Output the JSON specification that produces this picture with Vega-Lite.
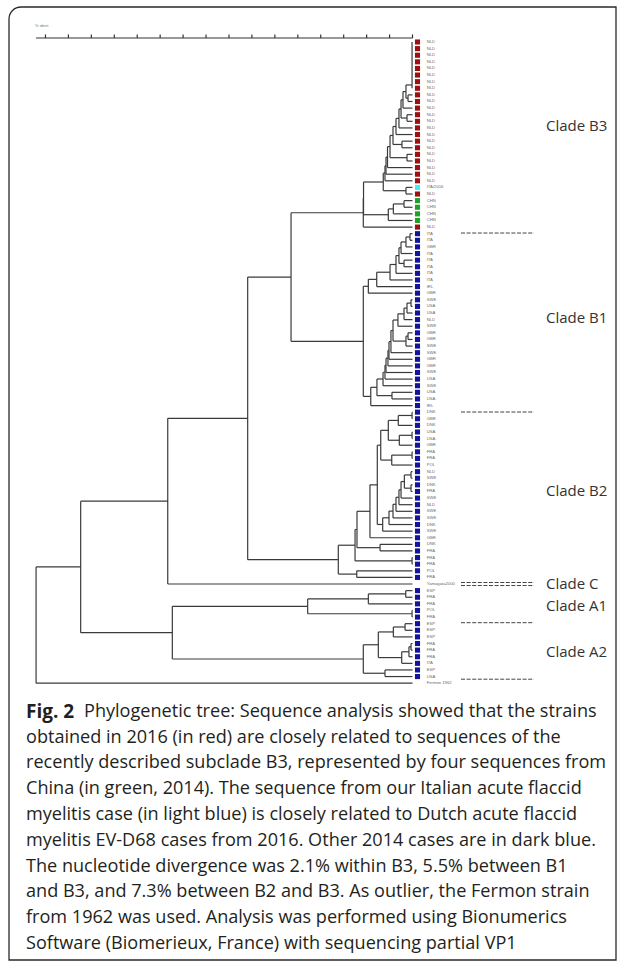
{
  "$schema": "https://vega.github.io/schema/vega-lite/v6.json",
  "width": 625,
  "height": 968,
  "padding": 0,
  "autosize": "none",
  "background": "white",
  "config": {"view": {"stroke": null}, "axis": {"disable": true}, "legend": {"disable": true}},
  "datasets": {
    "nodes": [
      {"nx":99.96,"ya":0,"xa":99.96,"yb":7,"xb":99.96},
      {"nx":99.61,"ya":8,"xa":100,"yb":9,"xb":100},
      {"nx":99.43,"ya":6.5,"xa":99.96,"yb":8.5,"xb":99.61},
      {"nx":99.17,"ya":7.5,"xa":99.43,"yb":10,"xb":100},
      {"nx":99.52,"ya":11,"xa":100,"yb":12,"xb":100},
      {"nx":99.0,"ya":8.75,"xa":99.17,"yb":11.5,"xb":99.52},
      {"nx":98.82,"ya":10.13,"xa":99.0,"yb":13,"xb":100},
      {"nx":98.56,"ya":11.56,"xa":98.82,"yb":14,"xb":100},
      {"nx":99.08,"ya":15,"xa":100,"yb":16,"xb":100},
      {"nx":98.3,"ya":12.78,"xa":98.56,"yb":15.5,"xb":99.08},
      {"nx":99.52,"ya":17,"xa":100,"yb":18,"xb":100},
      {"nx":98.04,"ya":14.14,"xa":98.3,"yb":17.5,"xb":99.52},
      {"nx":97.82,"ya":15.82,"xa":98.04,"yb":19,"xb":100},
      {"nx":97.69,"ya":17.41,"xa":97.82,"yb":20,"xb":100},
      {"nx":97.6,"ya":18.71,"xa":97.69,"yb":21,"xb":100},
      {"nx":99.43,"ya":22,"xa":100,"yb":23,"xb":100},
      {"nx":97.45,"ya":19.85,"xa":97.6,"yb":22.5,"xb":99.43},
      {"nx":99.26,"ya":24,"xa":100,"yb":25,"xb":100},
      {"nx":98.33,"ya":24.5,"xa":99.26,"yb":26,"xb":100},
      {"nx":97.89,"ya":25.25,"xa":98.33,"yb":27,"xb":100},
      {"nx":95.73,"ya":21.18,"xa":97.45,"yb":26.13,"xb":97.89},
      {"nx":95.71,"ya":23.65,"xa":95.73,"yb":28,"xb":100},
      {"nx":99.78,"ya":29,"xa":100,"yb":30,"xb":100},
      {"nx":99.43,"ya":29.5,"xa":99.78,"yb":31,"xb":100},
      {"nx":99.0,"ya":30.25,"xa":99.43,"yb":32,"xb":100},
      {"nx":99.26,"ya":33,"xa":100,"yb":34,"xb":100},
      {"nx":98.82,"ya":31.13,"xa":99.0,"yb":33.5,"xb":99.26},
      {"nx":98.56,"ya":32.31,"xa":98.82,"yb":35,"xb":100},
      {"nx":98.04,"ya":33.66,"xa":98.56,"yb":36,"xb":100},
      {"nx":96.88,"ya":34.83,"xa":98.04,"yb":37,"xb":100},
      {"nx":96.15,"ya":35.91,"xa":96.88,"yb":38,"xb":100},
      {"nx":99.87,"ya":39,"xa":100,"yb":40,"xb":100},
      {"nx":99.52,"ya":39.5,"xa":99.87,"yb":41,"xb":100},
      {"nx":99.26,"ya":40.25,"xa":99.52,"yb":42,"xb":100},
      {"nx":98.73,"ya":41.13,"xa":99.26,"yb":43,"xb":100},
      {"nx":99.61,"ya":44,"xa":100,"yb":45,"xb":100},
      {"nx":99.43,"ya":44.5,"xa":99.61,"yb":46,"xb":100},
      {"nx":98.3,"ya":42.06,"xa":98.73,"yb":45.25,"xb":99.43},
      {"nx":98.12,"ya":43.66,"xa":98.3,"yb":47,"xb":100},
      {"nx":97.95,"ya":45.33,"xa":98.12,"yb":48,"xb":100},
      {"nx":97.86,"ya":46.66,"xa":97.95,"yb":49,"xb":100},
      {"nx":97.69,"ya":47.83,"xa":97.86,"yb":50,"xb":100},
      {"nx":97.6,"ya":48.92,"xa":97.69,"yb":51,"xb":100},
      {"nx":97.43,"ya":49.96,"xa":97.6,"yb":52,"xb":100},
      {"nx":98.21,"ya":53,"xa":100,"yb":54,"xb":100},
      {"nx":96.9,"ya":50.98,"xa":97.43,"yb":53.5,"xb":98.21},
      {"nx":96.36,"ya":52.24,"xa":96.9,"yb":55,"xb":100},
      {"nx":95.71,"ya":36.96,"xa":96.15,"yb":53.62,"xb":96.36},
      {"nx":89.41,"ya":25.83,"xa":95.71,"yb":45.29,"xb":95.71},
      {"nx":99.96,"ya":56,"xa":100,"yb":57,"xb":100},
      {"nx":98.76,"ya":56.5,"xa":99.96,"yb":58,"xb":100},
      {"nx":99.96,"ya":59,"xa":100,"yb":60,"xb":100},
      {"nx":98.85,"ya":59.5,"xa":99.96,"yb":61,"xb":100},
      {"nx":97.89,"ya":57.25,"xa":98.76,"yb":60.25,"xb":98.85},
      {"nx":99.96,"ya":62,"xa":100,"yb":63,"xb":100},
      {"nx":98.19,"ya":62.5,"xa":99.96,"yb":64,"xb":100},
      {"nx":97.23,"ya":58.75,"xa":97.89,"yb":63.25,"xb":98.19},
      {"nx":99.87,"ya":65,"xa":100,"yb":66,"xb":100},
      {"nx":99.87,"ya":67,"xa":100,"yb":68,"xb":100},
      {"nx":99.29,"ya":65.5,"xa":99.87,"yb":67.5,"xb":99.87},
      {"nx":99.0,"ya":66.5,"xa":99.29,"yb":69,"xb":100},
      {"nx":98.82,"ya":67.75,"xa":99.0,"yb":70,"xb":100},
      {"nx":98.56,"ya":68.88,"xa":98.82,"yb":71,"xb":100},
      {"nx":98.3,"ya":69.94,"xa":98.56,"yb":72,"xb":100},
      {"nx":97.95,"ya":70.97,"xa":98.3,"yb":73,"xb":100},
      {"nx":97.4,"ya":71.98,"xa":97.95,"yb":74,"xb":100},
      {"nx":96.93,"ya":61.0,"xa":97.23,"yb":72.99,"xb":97.4},
      {"nx":96.29,"ya":67.0,"xa":96.93,"yb":75,"xb":100},
      {"nx":97.17,"ya":76,"xa":100,"yb":77,"xb":100},
      {"nx":95.16,"ya":71.0,"xa":96.29,"yb":76.5,"xb":97.17},
      {"nx":99.96,"ya":78,"xa":100,"yb":79,"xb":100},
      {"nx":94.99,"ya":73.75,"xa":95.16,"yb":78.5,"xb":99.96},
      {"nx":95.14,"ya":80,"xa":100,"yb":81,"xb":100},
      {"nx":93.53,"ya":76.13,"xa":94.99,"yb":80.5,"xb":95.14},
      {"nx":85.63,"ya":35.56,"xa":89.41,"yb":78.31,"xb":93.53},
      {"nx":78.66,"ya":56.94,"xa":85.63,"yb":82,"xb":100},
      {"nx":99.41,"ya":83,"xa":100,"yb":84,"xb":100},
      {"nx":96.15,"ya":83.5,"xa":99.41,"yb":85,"xb":100},
      {"nx":99.96,"ya":86,"xa":100,"yb":87,"xb":100},
      {"nx":90.86,"ya":84.25,"xa":96.15,"yb":86.5,"xb":99.96},
      {"nx":99.35,"ya":88,"xa":100,"yb":89,"xb":100},
      {"nx":98.33,"ya":88.5,"xa":99.35,"yb":90,"xb":100},
      {"nx":99.87,"ya":91,"xa":100,"yb":92,"xb":100},
      {"nx":99.69,"ya":91.5,"xa":99.87,"yb":93,"xb":100},
      {"nx":99.06,"ya":92.25,"xa":99.69,"yb":94,"xb":100},
      {"nx":97.02,"ya":89.25,"xa":98.33,"yb":93.13,"xb":99.06},
      {"nx":97.6,"ya":95,"xa":100,"yb":96,"xb":100},
      {"nx":95.71,"ya":91.19,"xa":97.02,"yb":95.5,"xb":97.6},
      {"nx":79.06,"ya":85.38,"xa":90.86,"yb":93.34,"xb":95.71},
      {"nx":71.07,"ya":69.47,"xa":78.66,"yb":89.36,"xb":79.06},
      {"nx":67.18,"ya":79.41,"xa":71.07,"yb":97,"xb":100}
    ],
    "leaves": [
      {"i":0,"lab":"NLD","grp":"2016"},{"i":1,"lab":"NLD","grp":"2016"},{"i":2,"lab":"NLD","grp":"2016"},{"i":3,"lab":"NLD","grp":"2016"},
      {"i":4,"lab":"NLD","grp":"2016"},{"i":5,"lab":"NLD","grp":"2016"},{"i":6,"lab":"NLD","grp":"2016"},{"i":7,"lab":"NLD","grp":"2016"},
      {"i":8,"lab":"NLD","grp":"2016"},{"i":9,"lab":"NLD","grp":"2016"},{"i":10,"lab":"NLD","grp":"2016"},{"i":11,"lab":"NLD","grp":"2016"},
      {"i":12,"lab":"NLD","grp":"2016"},{"i":13,"lab":"NLD","grp":"2016"},{"i":14,"lab":"NLD","grp":"2016"},{"i":15,"lab":"NLD","grp":"2016"},
      {"i":16,"lab":"NLD","grp":"2016"},{"i":17,"lab":"NLD","grp":"2016"},{"i":18,"lab":"NLD","grp":"2016"},{"i":19,"lab":"NLD","grp":"2016"},
      {"i":20,"lab":"NLD","grp":"2016"},{"i":21,"lab":"NLD","grp":"2016"},{"i":22,"lab":"ITA/2016","grp":"ITA 2016"},{"i":23,"lab":"NLD","grp":"2016"},
      {"i":24,"lab":"CHN","grp":"CHN 2014"},{"i":25,"lab":"CHN","grp":"CHN 2014"},{"i":26,"lab":"CHN","grp":"CHN 2014"},{"i":27,"lab":"CHN","grp":"CHN 2014"},
      {"i":28,"lab":"NLD","grp":"2016"},
      {"i":29,"lab":"ITA","grp":"2014"},{"i":30,"lab":"ITA","grp":"2014"},{"i":31,"lab":"GBR","grp":"2014"},{"i":32,"lab":"ITA","grp":"2014"},
      {"i":33,"lab":"ITA","grp":"2014"},{"i":34,"lab":"ITA","grp":"2014"},{"i":35,"lab":"ITA","grp":"2014"},{"i":36,"lab":"ITA","grp":"2014"},
      {"i":37,"lab":"IRL","grp":"2014"},{"i":38,"lab":"GBR","grp":"2014"},{"i":39,"lab":"SWE","grp":"2014"},{"i":40,"lab":"USA","grp":"2014"},
      {"i":41,"lab":"USA","grp":"2014"},{"i":42,"lab":"NLD","grp":"2014"},{"i":43,"lab":"SWE","grp":"2014"},{"i":44,"lab":"GBR","grp":"2014"},
      {"i":45,"lab":"GBR","grp":"2014"},{"i":46,"lab":"SWE","grp":"2014"},{"i":47,"lab":"SWE","grp":"2014"},{"i":48,"lab":"GBR","grp":"2014"},
      {"i":49,"lab":"GBR","grp":"2014"},{"i":50,"lab":"SWE","grp":"2014"},{"i":51,"lab":"USA","grp":"2014"},{"i":52,"lab":"SWE","grp":"2014"},
      {"i":53,"lab":"USA","grp":"2014"},{"i":54,"lab":"USA","grp":"2014"},{"i":55,"lab":"IRL","grp":"2014"},{"i":56,"lab":"DNK","grp":"2014"},
      {"i":57,"lab":"GBR","grp":"2014"},{"i":58,"lab":"DNK","grp":"2014"},{"i":59,"lab":"USA","grp":"2014"},{"i":60,"lab":"USA","grp":"2014"},
      {"i":61,"lab":"GBR","grp":"2014"},{"i":62,"lab":"FRA","grp":"2014"},{"i":63,"lab":"FRA","grp":"2014"},{"i":64,"lab":"POL","grp":"2014"},
      {"i":65,"lab":"NLD","grp":"2014"},{"i":66,"lab":"SWE","grp":"2014"},{"i":67,"lab":"DNK","grp":"2014"},{"i":68,"lab":"FRA","grp":"2014"},
      {"i":69,"lab":"SWE","grp":"2014"},{"i":70,"lab":"NLD","grp":"2014"},{"i":71,"lab":"SWE","grp":"2014"},{"i":72,"lab":"SWE","grp":"2014"},
      {"i":73,"lab":"DNK","grp":"2014"},{"i":74,"lab":"SWE","grp":"2014"},{"i":75,"lab":"GBR","grp":"2014"},{"i":76,"lab":"DNK","grp":"2014"},
      {"i":77,"lab":"FRA","grp":"2014"},{"i":78,"lab":"FRA","grp":"2014"},{"i":79,"lab":"FRA","grp":"2014"},{"i":80,"lab":"POL","grp":"2014"},
      {"i":81,"lab":"FRA","grp":"2014"},{"i":82,"lab":"Yamagata2000","grp":"ref"},
      {"i":83,"lab":"ESP","grp":"2014"},{"i":84,"lab":"FRA","grp":"2014"},{"i":85,"lab":"FRA","grp":"2014"},{"i":86,"lab":"POL","grp":"2014"},
      {"i":87,"lab":"FRA","grp":"2014"},{"i":88,"lab":"ESP","grp":"2014"},{"i":89,"lab":"ESP","grp":"2014"},{"i":90,"lab":"ESP","grp":"2014"},
      {"i":91,"lab":"FRA","grp":"2014"},{"i":92,"lab":"FRA","grp":"2014"},{"i":93,"lab":"FRA","grp":"2014"},{"i":94,"lab":"ITA","grp":"2014"},
      {"i":95,"lab":"ESP","grp":"2014"},{"i":96,"lab":"USA","grp":"2014"},{"i":97,"lab":"Fermon 1962","grp":"ref"}
    ],
    "clades": [
      {"c":"Clade B3","y":12.71},
      {"c":"Clade B1","y":41.75},
      {"c":"Clade B2","y":67.88},
      {"c":"Clade C","y":82.0},
      {"c":"Clade A1","y":85.28},
      {"c":"Clade A2","y":92.33}
    ],
    "seps": [
      {"y":28.9},{"y":55.98},{"y":81.77},{"y":82.23},{"y":87.85},{"y":96.4}
    ],
    "ticks": [
      {"v":68},{"v":70},{"v":72},{"v":74},{"v":76},{"v":78},{"v":80},{"v":82},{"v":84},
      {"v":86},{"v":88},{"v":90},{"v":92},{"v":94},{"v":96},{"v":98},{"v":100}
    ],
    "cap": [
      {"ln":1,"t":"Phylogenetic tree: Sequence analysis showed that the strains"},
      {"ln":2,"t":"obtained in 2016 (in red) are closely related to sequences of the"},
      {"ln":3,"t":"recently described subclade B3, represented by four sequences from"},
      {"ln":4,"t":"China (in green, 2014). The sequence from our Italian acute flaccid"},
      {"ln":5,"t":"myelitis case (in light blue) is closely related to Dutch acute flaccid"},
      {"ln":6,"t":"myelitis EV-D68 cases from 2016. Other 2014 cases are in dark blue."},
      {"ln":7,"t":"The nucleotide divergence was 2.1% within B3, 5.5% between B1"},
      {"ln":8,"t":"and B3, and 7.3% between B2 and B3. As outlier, the Fermon strain"},
      {"ln":9,"t":"from 1962 was used. Analysis was performed using Bionumerics"},
      {"ln":10,"t":"Software (Biomerieux, France) with sequencing partial VP1"}
    ]
  },
  "resolve": {"scale": {"y": "independent"}},
  "layer": [
    {
      "layer": [
        {
          "data": {"values": [{}]},
          "mark": {"type": "rect", "filled": false, "stroke": "#2a2a2a", "strokeWidth": 1.3, "cornerRadiusTopLeft": 12},
          "encoding": {
            "x": {"datum": 64.821, "type": "quantitative", "scale": {"domain": [64.036, 118.526], "nice": false, "zero": false}},
            "x2": {"datum": 117.741},
            "y": {"datum": -5.295, "type": "quantitative", "scale": {"domain": [-6.354, 140.091], "reverse": true, "nice": false, "zero": false}},
            "y2": {"datum": 138.88}
          }
        },
        {
          "data": {"name": "nodes"},
          "mark": {"type": "rule", "stroke": "#3a3a3a", "strokeWidth": 1.2},
          "encoding": {
            "x": {"field": "nx", "type": "quantitative", "scale": {"domain": [64.036, 118.526], "nice": false, "zero": false}},
            "y": {"field": "ya", "type": "quantitative", "scale": {"domain": [-6.354, 140.091], "reverse": true, "nice": false, "zero": false}},
            "y2": {"field": "yb"}
          }
        },
        {
          "data": {"name": "nodes"},
          "mark": {"type": "rule", "stroke": "#3a3a3a", "strokeWidth": 1.2},
          "encoding": {
            "x": {"field": "nx", "type": "quantitative", "scale": {"domain": [64.036, 118.526], "nice": false, "zero": false}},
            "x2": {"field": "xa"},
            "y": {"field": "ya", "type": "quantitative", "scale": {"domain": [-6.354, 140.091], "reverse": true, "nice": false, "zero": false}}
          }
        },
        {
          "data": {"name": "nodes"},
          "mark": {"type": "rule", "stroke": "#3a3a3a", "strokeWidth": 1.2},
          "encoding": {
            "x": {"field": "nx", "type": "quantitative", "scale": {"domain": [64.036, 118.526], "nice": false, "zero": false}},
            "x2": {"field": "xb"},
            "y": {"field": "yb", "type": "quantitative", "scale": {"domain": [-6.354, 140.091], "reverse": true, "nice": false, "zero": false}}
          }
        },
        {
          "data": {"name": "leaves"},
          "transform": [{"filter": "datum.grp !== 'ref'"}],
          "mark": {"type": "square", "size": 26, "opacity": 1, "filled": true},
          "encoding": {
            "x": {"datum": 100.435, "type": "quantitative", "scale": {"domain": [64.036, 118.526], "nice": false, "zero": false}},
            "y": {"field": "i", "type": "quantitative", "scale": {"domain": [-6.354, 140.091], "reverse": true, "nice": false, "zero": false}},
            "color": {"field": "grp", "type": "nominal", "legend": null,
              "scale": {"domain": ["2016", "ITA 2016", "CHN 2014", "2014"], "range": ["#9c1010", "#3ef0f6", "#21a126", "#13139c"]}}
          }
        },
        {
          "data": {"name": "leaves"},
          "mark": {"type": "text", "align": "left", "baseline": "middle", "fontSize": 4.2, "font": "Liberation Sans", "fill": "#6a6a6a"},
          "encoding": {
            "x": {"datum": 101.237, "type": "quantitative", "scale": {"domain": [64.036, 118.526], "nice": false, "zero": false}},
            "y": {"field": "i", "type": "quantitative", "scale": {"domain": [-6.354, 140.091], "reverse": true, "nice": false, "zero": false}},
            "text": {"field": "lab"}
          }
        },
        {
          "data": {"values": [{}]},
          "mark": {"type": "rule", "stroke": "#333", "strokeWidth": 1.1},
          "encoding": {
            "x": {"datum": 67.18, "type": "quantitative", "scale": {"domain": [64.036, 118.526], "nice": false, "zero": false}},
            "x2": {"datum": 100.02},
            "y": {"datum": -0.605, "type": "quantitative", "scale": {"domain": [-6.354, 140.091], "reverse": true, "nice": false, "zero": false}}
          }
        },
        {
          "data": {"name": "ticks"},
          "mark": {"type": "rule", "stroke": "#333", "strokeWidth": 1.2},
          "encoding": {
            "x": {"field": "v", "type": "quantitative", "scale": {"domain": [64.036, 118.526], "nice": false, "zero": false}},
            "y": {"datum": -0.605, "type": "quantitative", "scale": {"domain": [-6.354, 140.091], "reverse": true, "nice": false, "zero": false}},
            "y2": {"datum": -1.15}
          }
        },
        {
          "data": {"values": [{"t": "% ident"}]},
          "mark": {"type": "text", "align": "left", "baseline": "middle", "fontSize": 4, "fill": "#777"},
          "encoding": {
            "x": {"datum": 67.09, "type": "quantitative", "scale": {"domain": [64.036, 118.526], "nice": false, "zero": false}},
            "y": {"datum": -2.42, "type": "quantitative", "scale": {"domain": [-6.354, 140.091], "reverse": true, "nice": false, "zero": false}},
            "text": {"field": "t"}
          }
        },
        {
          "data": {"name": "seps"},
          "mark": {"type": "rule", "stroke": "#444", "strokeWidth": 1, "strokeDash": [4, 1.6]},
          "encoding": {
            "x": {"datum": 104.228, "type": "quantitative", "scale": {"domain": [64.036, 118.526], "nice": false, "zero": false}},
            "x2": {"datum": 110.592},
            "y": {"field": "y", "type": "quantitative", "scale": {"domain": [-6.354, 140.091], "reverse": true, "nice": false, "zero": false}}
          }
        },
        {
          "data": {"name": "clades"},
          "mark": {"type": "text", "align": "left", "baseline": "middle", "fontSize": 15, "font": "Open Sans", "fill": "#333"},
          "encoding": {
            "x": {"datum": 111.638, "type": "quantitative", "scale": {"domain": [64.036, 118.526], "nice": false, "zero": false}},
            "y": {"field": "y", "type": "quantitative", "scale": {"domain": [-6.354, 140.091], "reverse": true, "nice": false, "zero": false}},
            "text": {"field": "c"}
          }
        }
      ]
    },
    {
      "layer": [
        {
          "data": {"name": "cap"},
          "transform": [{"filter": "datum.ln > 1"}],
          "mark": {"type": "text", "align": "left", "baseline": "middle", "fontSize": 18.1, "font": "Open Sans", "fill": "#231f20"},
          "encoding": {
            "x": {"datum": 66.303, "type": "quantitative", "scale": {"domain": [64.036, 118.526], "nice": false, "zero": false}},
            "y": {"field": "ln", "type": "quantitative", "scale": {"domain": [-26.553, 10.923], "reverse": true, "nice": false, "zero": false}},
            "text": {"field": "t"}
          }
        },
        {
          "data": {"name": "cap"},
          "transform": [{"filter": "datum.ln === 1"}],
          "mark": {"type": "text", "align": "left", "baseline": "middle", "fontSize": 18.1, "font": "Open Sans", "fill": "#231f20", "dx": 58},
          "encoding": {
            "x": {"datum": 66.303, "type": "quantitative", "scale": {"domain": [64.036, 118.526], "nice": false, "zero": false}},
            "y": {"field": "ln", "type": "quantitative", "scale": {"domain": [-26.553, 10.923], "reverse": true, "nice": false, "zero": false}},
            "text": {"field": "t"}
          }
        },
        {
          "data": {"values": [{"ln": 1, "t": "Fig. 2"}]},
          "mark": {"type": "text", "align": "left", "baseline": "middle", "fontSize": 19, "font": "Open Sans", "fontWeight": "bold", "fill": "#231f20"},
          "encoding": {
            "x": {"datum": 66.303, "type": "quantitative", "scale": {"domain": [64.036, 118.526], "nice": false, "zero": false}},
            "y": {"field": "ln", "type": "quantitative", "scale": {"domain": [-26.553, 10.923], "reverse": true, "nice": false, "zero": false}},
            "text": {"field": "t"}
          }
        }
      ]
    }
  ]
}
